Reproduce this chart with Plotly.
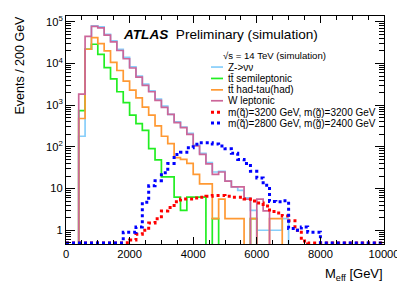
import plotly.graph_objects as go

# ---------------- data (events / 200 GeV) ----------------
bin_edges = list(range(0, 10001, 200))  # 0 .. 10000 GeV, 50 bins

z_nunu = [0, 0, 180, 22000, 80000, 76000, 50000, 35000, 22000, 14000,
          8300, 5000, 3200, 2200, 1400, 950, 600, 400, 300, 210,
          110, 70, 42, 25, 26, 15, 11, 9, 6, 3,
          1.0, 1.0, 1.0, 1.0, 1.9, 0, 0, 0, 0, 0,
          0, 0, 0, 0, 0, 0, 0, 0, 0, 0]
tt_semilep = [0, 0, 740, 22000, 29000, 16500, 8000, 4300, 2100, 1150,
              580, 360, 250, 91, 49, 19, 19, 6.2, 3.0, 6.2,
              6.2, 6.2, 0, 1.9, 0, 0, 0, 0, 0, 1.9,
              0, 0, 0, 0, 0, 0, 0, 0, 0, 0,
              0, 0, 0, 0, 0, 0, 0, 0, 0, 0]
tt_hadtau = [0, 0, 480, 22000, 42000, 30000, 20000, 10700, 6800, 3800,
             2300, 1500, 900, 580, 320, 180, 120, 55, 50, 40,
             22, 13, 13, 1.9, 5.6, 1.9, 1.9, 1.9, 0, 1.9,
             0, 0, 1.9, 1.9, 0, 0, 0, 0, 0, 0,
             0, 0, 0, 0, 0, 0, 0, 0, 0, 0]
w_lep = [0, 0, 1850, 45000, 78000, 72000, 48000, 33000, 20500, 13000,
         7800, 4700, 3000, 2100, 1300, 890, 600, 380, 290, 200,
         105, 66, 39, 22, 25, 15, 11, 11, 5.6, 0,
         5.6, 2.9, 0, 0, 0, 0, 0, 0, 0, 0,
         0, 0, 0, 0, 0, 0, 0, 0, 0, 0]
sig_3200_3200 = [0, 0, 0, 0, 0, 0, 0, 0, 0, 0.5,
                 0.58, 0.8, 1.0, 1.5, 1.9, 2.9, 3.5, 4.8, 5.6, 5.6,
                 5.9, 6.2, 6.5, 6.8, 6.8, 6.5, 6.2, 6.2, 5.6, 5.0,
                 4.5, 3.8, 2.8, 2.6, 2.2, 1.7, 1.0, 0.55, 0, 0,
                 0, 0, 0, 0, 0, 0, 0, 0, 0, 0]
sig_2800_2400 = [0, 0, 0, 0, 0, 0, 0, 0, 0, 0.9,
                 0.9, 1.2, 4.7, 11.7, 15.5, 24, 40, 66, 74, 95,
                 115, 126, 126, 118, 105, 90, 70, 50, 40, 26,
                 18, 12, 4.9, 4.8, 5.1, 1.1, 1.0, 1.2, 0.9, 0.9,
                 0, 0, 0, 0, 0, 0, 0, 0, 0, 0]

legend_labels = ["Z->νν", "tt̄ semileptonic", "tt̄ had-tau(had)", "W leptonic",
                 "m(q̃)=3200 GeV, m(g̃)=3200 GeV", "m(q̃)=2800 GeV, m(g̃)=2400 GeV"]
x_tickvals = [0, 2000, 4000, 6000, 8000, 10000]
x_ticktext = ["0", "2000", "4000", "6000", "8000", "10000"]
y_tickvals = [1, 10, 100, 1000, 10000, 100000]
y_ticktext = ["1", "10", "10<sup>2</sup>", "10<sup>3</sup>", "10<sup>4</sup>", "10<sup>5</sup>"]

# ---------------- style ----------------
# The html page has an 8 px body margin, so figure pixel p lands on page pixel p + 8.
OFF = 8
W, H = 405, 291
PL, PR, PT, PB = 66, 384, 14, 244            # plot box in page pixels
L, T = PL - OFF, PT - OFF
R = W - (PR - OFF)
B = H - (PB - OFF)
YLOG_MIN, YLOG_MAX = -0.33, 5.14
FONT = "Liberation Sans, Arial, Helvetica, sans-serif"

colors = ["#87cefa", "#22ee22", "#ff9933", "#cc6699", "#ff0000", "#0000ff"]
series = [z_nunu, tt_semilep, tt_hadtau, w_lep, sig_3200_3200, sig_2800_2400]
dotted = [False, False, False, False, True, True]

fig = go.Figure()

floor_bg = 1e-4                        # empty background bins fall off the axis
floor_sig = 10 ** (YLOG_MIN + 0.025)   # empty signal bins sit on the bottom frame

for vals, col, dot, name in zip(series, colors, dotted, legend_labels):
    if dot:
        yv = [max(v, floor_sig) for v in vals]
    else:
        yv = [v if v > 0 else floor_bg for v in vals]
    yv = yv + [yv[-1]]
    fig.add_trace(go.Scatter(
        x=bin_edges, y=yv, mode="lines", name=name,
        line=dict(color=col, width=3 if dot else 1.7, shape="hv",
                  dash="dot" if dot else "solid"),
        showlegend=False, hoverinfo="skip"))

def px(xp):  # page pixel -> paper x
    return (xp - PL) / (PR - PL)

def py(yp):  # page pixel -> paper y
    return (PB - yp) / (PB - PT)

ann = []
ann.append(dict(x=px(121), y=py(33), xref="paper", yref="paper", showarrow=False,
                xanchor="left", yanchor="middle",
                text="<b><i>ATLAS</i></b>&nbsp; Preliminary (simulation)",
                font=dict(size=13.6, color="black", family=FONT)))
ann.append(dict(x=px(221), y=py(53.5), xref="paper", yref="paper", showarrow=False,
                xanchor="left", yanchor="middle",
                text="√s = 14 TeV (simulation)", font=dict(size=9.6, color="black", family=FONT)))

shapes = []
leg_y = [65.5, 77, 88.5, 99.5, 111, 122]
for lab, col, dot, yy in zip(legend_labels, colors, dotted, leg_y):
    ann.append(dict(x=px(226), y=py(yy), xref="paper", yref="paper", showarrow=False,
                    xanchor="left", yanchor="middle",
                    text=lab, font=dict(size=10, color="black", family=FONT)))
    shapes.append(dict(type="line", xref="paper", yref="paper",
                       x0=px(211), x1=px(223), y0=py(yy), y1=py(yy),
                       line=dict(color=col, width=3 if dot else 1.7,
                                 dash="dot" if dot else "solid")))

ann.append(dict(x=px(385), y=py(275), xref="paper", yref="paper", showarrow=False,
                xanchor="right", yanchor="middle",
                text="M<sub>eff</sub> [GeV]", font=dict(size=13, color="black", family=FONT)))
ann.append(dict(x=px(20), y=py(12), xref="paper", yref="paper", showarrow=False,
                xanchor="center", yanchor="top", textangle=-90,
                text="Events / 200 GeV", font=dict(size=12.5, color="black", family=FONT)))

y_minor = [m * 10 ** d for d in range(-1, 6) for m in range(2, 10)]
y_minor = [v for v in y_minor if 10 ** YLOG_MIN < v < 10 ** YLOG_MAX]
x_minor = list(range(500, 10000, 500))

fig.update_layout(
    width=W, height=H,
    margin=dict(l=L, r=R, t=T, b=B, pad=0),
    paper_bgcolor="white", plot_bgcolor="white",
    font=dict(family=FONT, color="black", size=11.2),
    annotations=ann, shapes=shapes, showlegend=False,
    xaxis=dict(range=[0, 10000], showgrid=False, zeroline=False,
               showline=True, linecolor="black", linewidth=1, mirror="ticks",
               ticks="inside", ticklen=7, tickcolor="black", tickwidth=1,
               tickmode="array", tickvals=x_tickvals, ticktext=x_ticktext,
               tickfont=dict(size=11.2, family=FONT),
               minor=dict(ticks="inside", ticklen=4, tickcolor="black",
                          tickmode="array", tickvals=x_minor, showgrid=False)),
    yaxis=dict(type="log", range=[YLOG_MIN, YLOG_MAX], showgrid=False, zeroline=False,
               showline=True, linecolor="black", linewidth=1, mirror="ticks",
               ticks="inside", ticklen=9, tickcolor="black", tickwidth=1,
               tickmode="array", tickvals=y_tickvals, ticktext=y_ticktext,
               tickfont=dict(size=11.2, family=FONT),
               minor=dict(ticks="inside", ticklen=5, tickcolor="black",
                          tickmode="array", tickvals=y_minor, showgrid=False)),
)

fig.write_html("out.html")
